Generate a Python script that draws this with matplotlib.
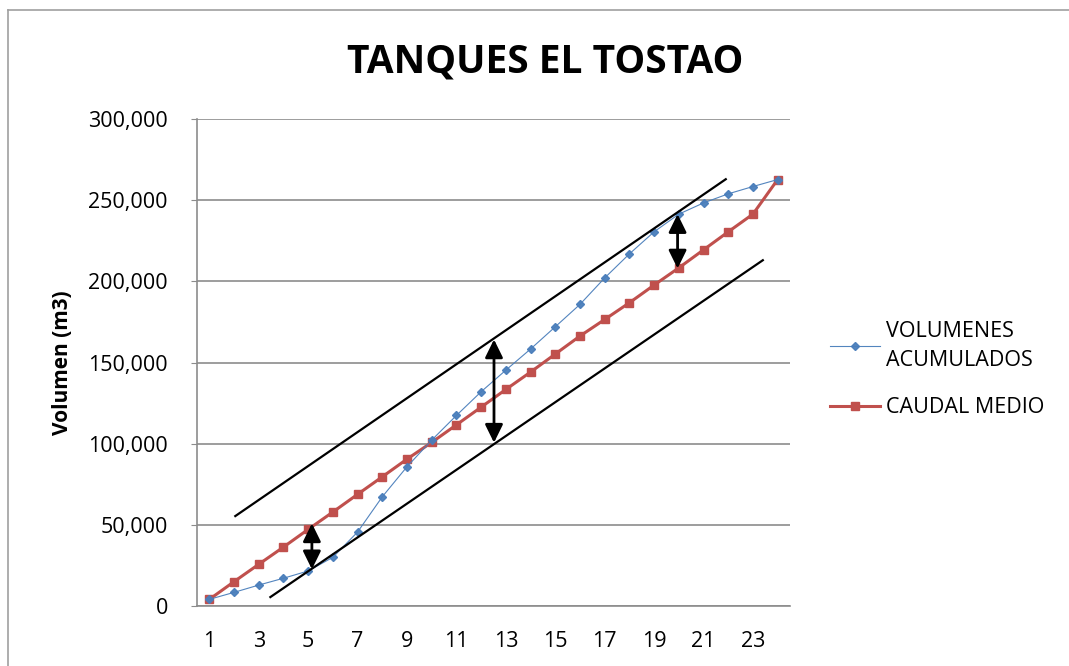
import numpy as np
import matplotlib.pyplot as plt
from matplotlib.lines import Line2D
from matplotlib.ticker import FuncFormatter

plt.rcParams["font.family"] = ["Open Sans", "DejaVu Sans"]

# hours 1..24
hours = list(range(1, 25))

volumenes_acumulados = [
    4100, 8400, 12900, 17100, 21600, 30000, 45600, 67300, 85800, 102200,
    117400, 132000, 145300, 158300, 172000, 185800, 202100, 216900, 230500, 241400,
    248300, 253900, 258400, 262700,
]
caudal_medio = [
    4100, 15000, 25700, 36300, 47200, 57900, 68800, 79600, 90500, 100800,
    111600, 122500, 133400, 144100, 155200, 166300, 176500, 186800, 197700, 208300,
    219400, 230500, 241400, 262700,
]

# parallel envelope lines (x, y) endpoints
upper_line_x = [2.05, 21.9]
upper_line_y = [55400, 262900]
lower_line_x = [3.47, 23.4]
lower_line_y = [5500, 213000]

# double arrows: x, top, bottom
arrow_x = [5.15, 12.52, 19.95]
arrow_top = [50900, 164200, 241400]
arrow_bottom = [22600, 100600, 207900]

fig = plt.figure(figsize=(10.69, 6.66), dpi=100)
ax = fig.add_axes([197 / 1069, 1 - 606 / 666, (790 - 197) / 1069, (606 - 119) / 666])

ax.plot(hours, volumenes_acumulados, color="#4a7ebb", lw=0.8, marker="D", ms=4,
        markeredgecolor="#4a7ebb", label="VOLUMENES\nACUMULADOS", zorder=4, alpha=0.95)
ax.plot(hours, caudal_medio, color="#c0504d", lw=2.2, marker="s", ms=5.5,
        label="CAUDAL MEDIO", zorder=3)

ax.plot(upper_line_x, upper_line_y, color="black", lw=1.6, zorder=5)
ax.plot(lower_line_x, lower_line_y, color="black", lw=1.6, zorder=5)

for x, top, bottom in zip(arrow_x, arrow_top, arrow_bottom):
    ax.annotate("", xy=(x, top), xytext=(x, bottom),
                arrowprops=dict(arrowstyle="<|-|>,head_length=0.55,head_width=0.27",
                                color="black", lw=2, mutation_scale=20,
                                shrinkA=0, shrinkB=0),
                zorder=6)

ax.set_xlim(0.5, 24.5)
ax.set_ylim(0, 300000)
ax.set_xticks(hours[::2])
ax.set_yticks(np.arange(0, 300001, 50000))
ax.yaxis.set_major_formatter(FuncFormatter(lambda v, p: f"{int(v):,}"))
ax.grid(axis="y", color="#8c8c8c", lw=1.2)
ax.set_axisbelow(True)

for side in ["top", "right"]:
    ax.spines[side].set_visible(False)
for side in ["left", "bottom"]:
    ax.spines[side].set_color("#8c8c8c")
    ax.spines[side].set_linewidth(1.2)
ax.tick_params(axis="y", length=4, color="#8c8c8c", labelsize=15.5, pad=17)
ax.tick_params(axis="x", length=0, labelsize=15.5, pad=18)

ax.set_ylabel("Volumen (m3)", fontsize=15, fontweight="bold", labelpad=11)

fig.text(545 / 1069, 1 - 62 / 666, "TANQUES EL TOSTAO", ha="center", va="center",
         fontsize=28, fontweight="bold")

leg = ax.legend(loc="upper left", bbox_to_anchor=(811 / 1069, 1 - 302 / 666),
                bbox_transform=fig.transFigure, frameon=False, fontsize=15.5,
                handlelength=2.3, handletextpad=0.3, labelspacing=1.25)
for t in leg.get_texts():
    t.set_linespacing(1.45)

# chart border
fig.add_artist(Line2D([8 / 1069, 1], [1 - 10 / 666, 1 - 10 / 666], color="#a0a0a0", lw=1.2))
fig.add_artist(Line2D([8 / 1069, 8 / 1069], [0, 1 - 10 / 666], color="#a0a0a0", lw=1.2))

fig.savefig("out.png", dpi=100)
